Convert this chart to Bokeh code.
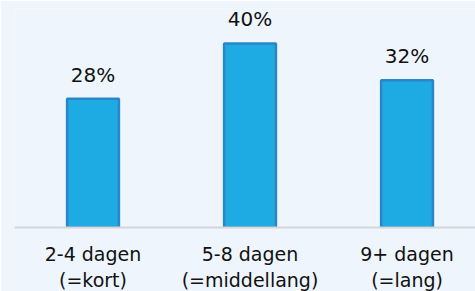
from bokeh.plotting import figure
from bokeh.models import Range1d, FixedTicker, ColumnDataSource
from bokeh.embed import file_html
from bokeh.resources import INLINE
from bokeh.core.properties import value

categories = ["2-4 dagen\n(=kort)", "5-8 dagen\n(=middellang)", "9+ dagen\n(=lang)"]
values = [28, 40, 32]
labels = ["28%", "40%", "32%"]

xs = [i + 0.5 for i in range(len(categories))]
src = ColumnDataSource(dict(x=xs, top=values, label=labels))

BG = "#eef5fc"
p = figure(frame_width=461, frame_height=219, output_backend="svg", toolbar_location=None,
           x_range=Range1d(0, 2.936), y_range=Range1d(0, 47.6),
           min_border_left=14, min_border_right=0, min_border_top=8, min_border_bottom=0)
p.background_fill_color = BG
p.border_fill_color = BG
p.outline_line_color = None
p.grid.visible = False

p.vbar(x="x", top="top", bottom=0, width=0.33, source=src,
       fill_color="#1eabe3", line_color="#2b86c8", line_width=2.5)
p.text(x="x", y="top", text="label", source=src, text_align="center",
       text_baseline="alphabetic", y_offset=-24, text_font=value("DejaVu Sans"),
       text_font_size="20px", text_color="#111111")

p.yaxis.visible = False
ax = p.xaxis[0]
ax.ticker = FixedTicker(ticks=xs)
ax.major_label_overrides = {x: c for x, c in zip(xs, categories)}
ax.major_tick_line_color = None
ax.minor_tick_line_color = None
ax.axis_line_color = "#d3d6da"
ax.axis_line_width = 2
ax.major_label_standoff = 9
ax.major_label_text_font = "DejaVu Sans"
ax.major_label_text_font_size = "19px"
ax.major_label_text_color = "#111111"

open("out.html", "w").write(file_html(p, INLINE))
